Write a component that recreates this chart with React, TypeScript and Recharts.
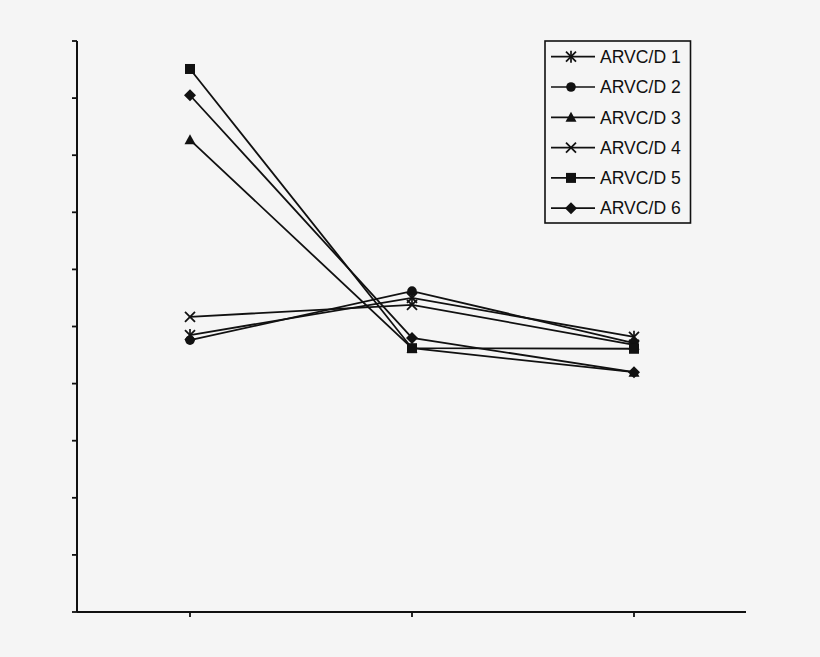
import React from "react";
import { LineChart, Line, XAxis, YAxis } from "recharts";

// time points (axis labels are not shown in the source)
const categories = ["T1", "T2", "T3"];

const seriesNames = ["ARVC/D 1", "ARVC/D 2", "ARVC/D 3", "ARVC/D 4", "ARVC/D 5", "ARVC/D 6"];
const markers = ["star", "circle", "triangle", "cross", "square", "diamond"];

const arvc1 = [4.85, 5.5, 4.82];
const arvc2 = [4.76, 5.62, 4.71];
const arvc3 = [8.27, 4.62, 4.2];
const arvc4 = [5.17, 5.38, 4.68];
const arvc5 = [9.51, 4.62, 4.61];
const arvc6 = [9.05, 4.8, 4.2];

const yTicks = [0, 1, 2, 3, 4, 5, 6, 7, 8, 9, 10];

const allSeries = [arvc1, arvc2, arvc3, arvc4, arvc5, arvc6];
const data = categories.map((c, i) => {
  const row: Record<string, string | number> = { name: c };
  seriesNames.forEach((s, j) => { row[s] = allSeries[j][i]; });
  return row;
});

const ink = "#111";

// tick marks stay, labels don't
const noLabel = () => <g />;

function Marker({ type, cx, cy }: { type: string; cx: number; cy: number }) {
  const s = 5;
  switch (type) {
    case "star":
      return (
        <g stroke={ink} strokeWidth={1.7}>
          <line x1={cx - s} y1={cy - s} x2={cx + s} y2={cy + s} />
          <line x1={cx - s} y1={cy + s} x2={cx + s} y2={cy - s} />
          <line x1={cx} y1={cy - s - 1} x2={cx} y2={cy + s + 1} />
        </g>
      );
    case "circle":
      return <circle cx={cx} cy={cy} r={4.8} fill={ink} />;
    case "triangle":
      return <polygon points={`${cx},${cy - 5.5} ${cx + 5.5},${cy + 4.5} ${cx - 5.5},${cy + 4.5}`} fill={ink} />;
    case "cross":
      return (
        <g stroke={ink} strokeWidth={1.7}>
          <line x1={cx - s} y1={cy - s} x2={cx + s} y2={cy + s} />
          <line x1={cx - s} y1={cy + s} x2={cx + s} y2={cy - s} />
        </g>
      );
    case "square":
      return <rect x={cx - 5} y={cy - 5} width={10} height={10} fill={ink} />;
    default:
      return <polygon points={`${cx},${cy - 6} ${cx + 6},${cy} ${cx},${cy + 6} ${cx - 6},${cy}`} fill={ink} />;
  }
}

function LegendBox() {
  return (
    <svg width={148} height={184} style={{ position: "absolute", left: 544, top: 40 }}>
      <rect x={1} y={1} width={145.5} height={182} fill="none" stroke={ink} strokeWidth={1.6} />
      {seriesNames.map((s, i) => {
        const y = 16.7 + 30.3 * i;
        return (
          <g key={s}>
            <line x1={7} y1={y} x2={51} y2={y} stroke={ink} strokeWidth={1.7} />
            <Marker type={markers[i]} cx={27} cy={y} />
            <text x={56} y={y + 6.2} fontSize={17.6} fill={ink} fontFamily="'Liberation Sans', Arial, sans-serif">{s}</text>
          </g>
        );
      })}
    </svg>
  );
}

export default function App() {
  return (
    <div style={{ position: "absolute", left: 0, top: 0, width: 820, height: 657, background: "#f5f5f5" }}>
      <LineChart width={820} height={657} data={data} margin={{ top: 41, right: 74, bottom: 40, left: 72 }}>
        <XAxis
          dataKey="name"
          height={5}
          padding={{ left: 113, right: 112 }}
          tick={noLabel}
          tickSize={5}
          axisLine={{ stroke: ink, strokeWidth: 2 }}
          tickLine={{ stroke: ink, strokeWidth: 1.8 }}
        />
        <YAxis
          width={5}
          domain={[0, 10]}
          ticks={yTicks}
          interval={0}
          tick={noLabel}
          tickSize={5}
          axisLine={{ stroke: ink, strokeWidth: 2 }}
          tickLine={{ stroke: ink, strokeWidth: 1.8 }}
        />
        {seriesNames.map((s, i) => (
          <Line
            key={s}
            dataKey={s}
            stroke={ink}
            strokeWidth={1.8}
            isAnimationActive={false}
            dot={(p: any) => <Marker key={`${s}-${p.index}`} type={markers[i]} cx={p.cx} cy={p.cy} />}
            activeDot={false}
          />
        ))}
      </LineChart>
      <LegendBox />
    </div>
  );
}
